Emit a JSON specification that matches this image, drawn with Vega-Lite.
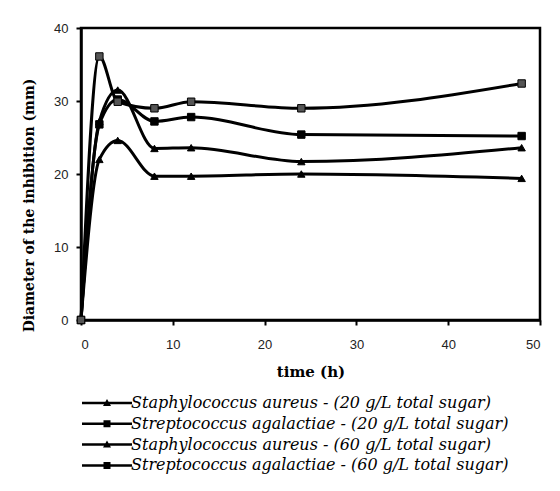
{
  "$schema": "https://vega.github.io/schema/vega-lite/v6.json",
  "width": 459,
  "height": 292,
  "autosize": "none",
  "padding": {"left": 81, "top": 28, "right": 20, "bottom": 171},
  "background": "white",
  "config": {
    "view": {"stroke": "black", "strokeWidth": 2.5},
    "axis": {
      "grid": false,
      "domainColor": "black",
      "domainWidth": 2.5,
      "tickColor": "black",
      "tickWidth": 2,
      "tickSize": 5,
      "labelFont": "Liberation Sans",
      "labelFontSize": 13,
      "labelColor": "#222",
      "titleFont": "DejaVu Serif",
      "titleFontWeight": "bold",
      "titleColor": "black"
    }
  },
  "data": {
    "values": [
      {"series": "Staphylococcus aureus - (20 g/L total sugar)", "time": 0, "d": 0},
      {"series": "Staphylococcus aureus - (20 g/L total sugar)", "time": 2, "d": 22},
      {"series": "Staphylococcus aureus - (20 g/L total sugar)", "time": 4, "d": 24.6},
      {"series": "Staphylococcus aureus - (20 g/L total sugar)", "time": 8, "d": 19.7},
      {"series": "Staphylococcus aureus - (20 g/L total sugar)", "time": 12, "d": 19.7},
      {"series": "Staphylococcus aureus - (20 g/L total sugar)", "time": 24, "d": 20},
      {"series": "Staphylococcus aureus - (20 g/L total sugar)", "time": 48, "d": 19.4},
      {"series": "Streptococcus agalactiae - (20 g/L total sugar)", "time": 0, "d": 0},
      {"series": "Streptococcus agalactiae - (20 g/L total sugar)", "time": 2, "d": 26.8},
      {"series": "Streptococcus agalactiae - (20 g/L total sugar)", "time": 4, "d": 30.2},
      {"series": "Streptococcus agalactiae - (20 g/L total sugar)", "time": 8, "d": 27.2},
      {"series": "Streptococcus agalactiae - (20 g/L total sugar)", "time": 12, "d": 27.8},
      {"series": "Streptococcus agalactiae - (20 g/L total sugar)", "time": 24, "d": 25.4},
      {"series": "Streptococcus agalactiae - (20 g/L total sugar)", "time": 48, "d": 25.2},
      {"series": "Staphylococcus aureus - (60 g/L total sugar)", "time": 0, "d": 0},
      {"series": "Staphylococcus aureus - (60 g/L total sugar)", "time": 2, "d": 27.2},
      {"series": "Staphylococcus aureus - (60 g/L total sugar)", "time": 4, "d": 31.5},
      {"series": "Staphylococcus aureus - (60 g/L total sugar)", "time": 8, "d": 23.5},
      {"series": "Staphylococcus aureus - (60 g/L total sugar)", "time": 12, "d": 23.6},
      {"series": "Staphylococcus aureus - (60 g/L total sugar)", "time": 24, "d": 21.7},
      {"series": "Staphylococcus aureus - (60 g/L total sugar)", "time": 48, "d": 23.6},
      {"series": "Streptococcus agalactiae - (60 g/L total sugar)", "time": 0, "d": 0},
      {"series": "Streptococcus agalactiae - (60 g/L total sugar)", "time": 2, "d": 36.1},
      {"series": "Streptococcus agalactiae - (60 g/L total sugar)", "time": 4, "d": 29.9},
      {"series": "Streptococcus agalactiae - (60 g/L total sugar)", "time": 8, "d": 29},
      {"series": "Streptococcus agalactiae - (60 g/L total sugar)", "time": 12, "d": 29.9},
      {"series": "Streptococcus agalactiae - (60 g/L total sugar)", "time": 24, "d": 29},
      {"series": "Streptococcus agalactiae - (60 g/L total sugar)", "time": 48, "d": 32.4}
    ]
  },
  "encoding": {
    "x": {
      "field": "time", "type": "quantitative",
      "scale": {"domain": [0, 50], "nice": false, "zero": false},
      "axis": {"values": [0, 10, 20, 30, 40, 50], "title": "time (h)", "titleFontSize": 15, "labelPadding": 13, "titlePadding": 13}
    },
    "y": {
      "field": "d", "type": "quantitative",
      "scale": {"domain": [0, 40], "nice": false},
      "axis": {"values": [0, 10, 20, 30, 40], "title": "Diameter of the inhibition  (mm)", "titleFontSize": 14, "labelPadding": 8, "titleX": -52, "titleY": 177, "titleAngle": -90, "titleBaseline": "middle", "titleAlign": "center"}
    }
  },
  "layer": [
    {
      "mark": {"type": "line", "interpolate": "monotone", "color": "black", "strokeWidth": 3},
      "encoding": {"detail": {"field": "series"}}
    },
    {
      "mark": {"type": "point", "filled": true, "stroke": "black", "strokeWidth": 1, "size": 55, "opacity": 1},
      "encoding": {
        "shape": {
          "field": "series", "type": "nominal",
          "scale": {
            "domain": ["Staphylococcus aureus - (20 g/L total sugar)", "Streptococcus agalactiae - (20 g/L total sugar)", "Staphylococcus aureus - (60 g/L total sugar)", "Streptococcus agalactiae - (60 g/L total sugar)"],
            "range": ["triangle-up", "square", "triangle-up", "square"]
          },
          "legend": null
        },
        "fill": {
          "field": "series", "type": "nominal",
          "scale": {
            "domain": ["Staphylococcus aureus - (20 g/L total sugar)", "Streptococcus agalactiae - (20 g/L total sugar)", "Staphylococcus aureus - (60 g/L total sugar)", "Streptococcus agalactiae - (60 g/L total sugar)"],
            "range": ["black", "black", "black", "#555555"]
          },
          "legend": null
        }
      }
    },
    {
      "transform": [{"filter": "datum.time < 0"}],
      "mark": {"type": "point", "filled": true, "color": "black", "size": 100, "opacity": 1},
      "encoding": {
        "shape": {
          "field": "series", "type": "nominal",
          "scale": {
            "domain": ["Staphylococcus aureus - (20 g/L total sugar)", "Streptococcus agalactiae - (20 g/L total sugar)", "Staphylococcus aureus - (60 g/L total sugar)", "Streptococcus agalactiae - (60 g/L total sugar)"],
            "range": ["M-5,-0.25H5V0.25H-5ZM-0.8,0.6L0,-0.8L0.8,0.6Z", "M-5,-0.25H5V0.25H-5ZM-0.7,-0.7H0.7V0.7H-0.7Z", "M-5,-0.25H5V0.25H-5ZM-0.8,0.6L0,-0.8L0.8,0.6Z", "M-5,-0.25H5V0.25H-5ZM-0.7,-0.7H0.7V0.7H-0.7Z"]
          },
          "legend": {
            "orient": "none", "legendX": 18, "legendY": 367, "direction": "vertical", "title": null,
            "labelFont": "DejaVu Serif", "labelFontStyle": "italic", "labelFontSize": 16, "labelColor": "black",
            "labelLimit": 500, "labelOffset": 16, "rowPadding": 4.8,
            "symbolFillColor": "black", "symbolStrokeWidth": 0, "symbolSize": 100
          }
        }
      }
    }
  ],
  "resolve": {"scale": {"shape": "independent", "fill": "independent"}, "legend": {"shape": "independent", "fill": "independent"}}
}
